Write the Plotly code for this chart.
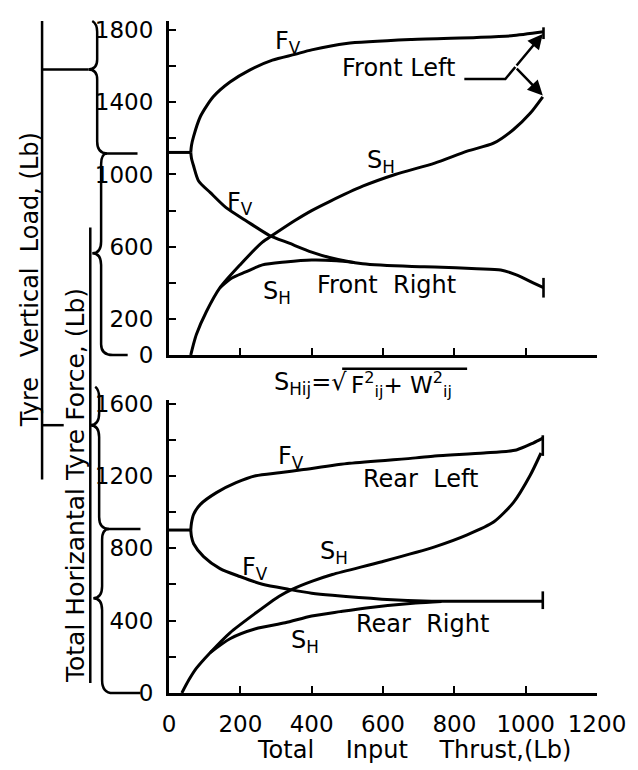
import plotly.graph_objects as go

# ---------------- data ----------------
x_ticks = [0, 200, 400, 600, 800, 1000, 1200]
x_ticktext = ["0", "200", "400", "600", "800", "1000", "1200"]
top_yticks = [0, 200, 400, 600, 800, 1000, 1200, 1400, 1600, 1800]
top_yticktext = ["0", "200", "", "600", "", "1000", "", "1400", "", "1800"]
bot_yticks = [0, 200, 400, 600, 800, 1000, 1200, 1400, 1600]
bot_yticktext = ["0", "", "400", "", "800", "", "1200", "", "1600"]

# Front wheels (top panel)
front_static_x = [0, 61]
front_static_y = [1122, 1122]
fl_fv_x = [61, 63, 69, 88, 124, 171, 226, 290, 353, 400, 497, 681, 863, 960, 1050]
fl_fv_y = [1122, 1160, 1211, 1321, 1430, 1512, 1578, 1633, 1665, 1690, 1726, 1748, 1759, 1768, 1790]
fr_fv_x = [61, 63, 69, 83, 116, 160, 215, 281, 337, 400, 450, 543, 681, 745, 863, 930, 974, 1021, 1050]
fr_fv_y = [1122, 1090, 1047, 964, 899, 816, 745, 663, 619, 570, 540, 505, 490, 488, 478, 471, 444, 400, 373]
fl_sh_x = [61, 68, 77, 105, 143, 199, 262, 290, 353, 400, 450, 543, 634, 745, 836, 910, 966, 1012, 1048]
fl_sh_y = [0, 55, 115, 241, 373, 499, 625, 663, 745, 800, 850, 935, 1000, 1063, 1129, 1173, 1249, 1337, 1430]
fr_sh_x = [143, 175, 215, 262, 326, 400, 470, 520]
fr_sh_y = [373, 425, 460, 499, 515, 526, 522, 512]

# Rear wheels (bottom panel)
rear_static_x = [0, 61]
rear_static_y = [901, 901]
rl_fv_x = [61, 63, 69, 88, 133, 188, 243, 309, 372, 506, 692, 745, 883, 974, 1021, 1048]
rl_fv_y = [901, 940, 988, 1043, 1108, 1163, 1201, 1218, 1234, 1270, 1300, 1311, 1327, 1344, 1382, 1409]
rr_fv_x = [61, 63, 69, 97, 143, 199, 262, 337, 400, 458, 597, 736, 875, 1048]
rr_fv_y = [901, 865, 825, 754, 688, 644, 601, 573, 552, 540, 519, 508, 508, 508]
rl_sh_x = [36, 55, 77, 116, 171, 243, 309, 345, 400, 458, 597, 745, 836, 910, 966, 1012, 1043]
rl_sh_y = [0, 70, 137, 224, 333, 442, 535, 573, 617, 655, 726, 808, 874, 945, 1054, 1201, 1327]
rr_sh_x = [116, 171, 243, 326, 400, 480, 553, 692, 764]
rr_sh_y = [224, 300, 355, 388, 426, 450, 470, 497, 506]

# ---------------- figure ----------------
W, H = 638, 770
ML, MR, MT, MB = 169, 34, 13, 77
FONT = "DejaVu Sans, sans-serif"


def pxx(x):
    return (x - ML) / (W - ML - MR)


def pxy(y):
    return (H - MB - y) / (H - MT - MB)


fig = go.Figure()


def curve(x, y, xa, ya, cap=None):
    kw = {}
    if cap is not None:
        plus, minus = cap
        arr = [0] * (len(x) - 1) + [plus]
        arrm = [0] * (len(x) - 1) + [minus]
        kw["error_y"] = dict(type="data", symmetric=False, array=arr, arrayminus=arrm,
                             width=0, thickness=2.6, color="black")
    fig.add_trace(go.Scatter(x=x, y=y, xaxis=xa, yaxis=ya, mode="lines",
                             line=dict(color="black", width=3, shape="spline", smoothing=0.7),
                             showlegend=False, hoverinfo="skip", **kw))


# top panel
curve(front_static_x, front_static_y, "x", "y")
curve(fl_fv_x, fl_fv_y, "x", "y", cap=(25, 40))
curve(fr_fv_x, fr_fv_y, "x", "y", cap=(54, 55))
curve(fl_sh_x, fl_sh_y, "x", "y")
curve(fr_sh_x, fr_sh_y, "x", "y")
# bottom panel
curve(rear_static_x, rear_static_y, "x2", "y2")
curve(rl_fv_x, rl_fv_y, "x2", "y2", cap=(16, 98))
curve(rr_fv_x, rr_fv_y, "x2", "y2", cap=(54, 44))
curve(rl_sh_x, rl_sh_y, "x2", "y2")
curve(rr_sh_x, rr_sh_y, "x2", "y2")

axis_common = dict(showline=True, linecolor="black", linewidth=3, ticks="inside",
                   ticklen=7, tickwidth=2, tickcolor="black", showgrid=False,
                   zeroline=False, tickfont=dict(family=FONT, size=23, color="black"))

fig.update_layout(
    width=W, height=H,
    margin=dict(l=ML, r=MR, t=MT, b=MB),
    paper_bgcolor="white", plot_bgcolor="white",
    xaxis=dict(domain=[0, 1], range=[0, 1200], anchor="y", tickvals=x_ticks,
               showticklabels=False, **axis_common),
    yaxis=dict(domain=[0.503, 1], range=[0, 1850], anchor="x", tickvals=top_yticks,
               ticktext=top_yticktext, ticklabelstandoff=8, **axis_common),
    xaxis2=dict(domain=[0, 1], range=[0, 1200], anchor="y2", tickvals=x_ticks,
                ticktext=x_ticktext, ticklabelstandoff=8, **axis_common),
    yaxis2=dict(domain=[0, 0.436], range=[0, 1620], anchor="x2", tickvals=bot_yticks,
                ticktext=bot_yticktext, ticklabelstandoff=8, **axis_common),
)


def lab(text, x, y, xa="x", ya="y", size=24, **kw):
    fig.add_annotation(text=text, x=x, y=y, xref=xa, yref=ya, showarrow=False,
                       xanchor="center", yanchor="middle",
                       font=dict(family=FONT, size=size, color="black"), **kw)


# top panel labels
lab("F<sub>V</sub>", 335, 1730)
lab("Front Left", 643, 1590)
lab("S<sub>H</sub>", 595, 1070)
lab("F<sub>V</sub>", 200, 840)
lab("S<sub>H</sub>", 303, 345)
lab("Front  Right", 610, 390)
# bottom panel labels
lab("F<sub>V</sub>", 342, 1300, "x2", "y2")
lab("Rear  Left", 706, 1185, "x2", "y2")
lab("S<sub>H</sub>", 463, 775, "x2", "y2")
lab("F<sub>V</sub>", 240, 690, "x2", "y2")
lab("Rear  Right", 712, 380, "x2", "y2")
lab("S<sub>H</sub>", 381, 285, "x2", "y2")

# Front Left leader + arrows
fig.add_shape(type="path", xref="x", yref="y",
              path="M 828,1529 L 943,1529 L 971,1595",
              line=dict(color="black", width=2.5))
for ty in (1778, 1438):
    fig.add_annotation(x=1048, y=ty, xref="x", yref="y", ax=971, ay=1595,
                       axref="x", ayref="y", text="", showarrow=True,
                       arrowhead=2, arrowsize=1.2, arrowwidth=2.5, arrowcolor="black")

# formula between panels
fig.add_annotation(text="S<sub>Hij</sub>=√", x=pxx(352), y=pxy(380), xref="paper", yref="paper",
                   xanchor="right", yanchor="middle", showarrow=False,
                   font=dict(family=FONT, size=24, color="black"))
fig.add_annotation(text="F<sup>2</sup><sub>ij</sub>+ W<sup>2</sup><sub>ij</sub>",
                   x=pxx(352), y=pxy(381), xref="paper", yref="paper",
                   xanchor="left", yanchor="middle", showarrow=False,
                   font=dict(family=FONT, size=23, color="black"))
fig.add_shape(type="line", xref="paper", yref="paper", x0=pxx(345), y0=pxy(365),
              x1=pxx(472), y1=pxy(365), line=dict(color="black", width=2.5))

# x axis title
fig.add_annotation(text="Total\u2003 Input\u2003 Thrust,(Lb)", x=pxx(418), y=pxy(751),
                   xref="paper", yref="paper", showarrow=False,
                   xanchor="center", yanchor="middle",
                   font=dict(family=FONT, size=24, color="black"))

# left side titles
fig.add_annotation(text="Tyre\u2002 Vertical  Load, (Lb)", x=pxx(28), y=pxy(275),
                   xref="paper", yref="paper", showarrow=False, textangle=-90,
                   xanchor="center", yanchor="middle",
                   font=dict(family=FONT, size=24, color="black"))
fig.add_annotation(text="Total Horizantal Tyre Force, (Lb)", x=pxx(74), y=pxy(483),
                   xref="paper", yref="paper", showarrow=False, textangle=-90,
                   xanchor="center", yanchor="middle",
                   font=dict(family=FONT, size=25, color="black"))


def ppath(cmds):
    out = []
    for c in cmds:
        op, pts = c[0], c[1:]
        out.append(op + " " + " ".join(f"{pxx(a):.5f},{pxy(b):.5f}" for a, b in pts))
    return " ".join(out)


deco = [
    [("M", (40, 13)), ("L", (40, 477))],
    [("M", (40, 62)), ("L", (87, 62))],
    [("M", (40, 422)), ("L", (62, 422))],
    [("M", (89, 222)), ("L", (89, 683))],
    [("M", (91, 13)), ("Q", (96, 16), (96, 24)), ("L", (96, 52)), ("Q", (96, 62), (87, 62)),
     ("Q", (96, 62), (96, 72)), ("L", (96, 135)), ("Q", (96, 147), (106, 147)), ("L", (137, 147))],
    [("M", (106, 147)), ("Q", (100, 147), (100, 158)), ("L", (100, 236)), ("Q", (100, 248), (91, 248)),
     ("Q", (100, 248), (100, 260)), ("L", (100, 340)), ("Q", (100, 351), (112, 351)), ("L", (127, 351))],
    [("M", (94, 383)), ("Q", (98, 386), (98, 394)), ("L", (98, 410)), ("Q", (98, 422), (89, 422)),
     ("Q", (98, 422), (98, 434)), ("L", (98, 515)), ("Q", (98, 527), (108, 527)), ("L", (140, 527))],
    [("M", (108, 527)), ("Q", (101, 527), (101, 538)), ("L", (101, 585)), ("Q", (101, 597), (92, 597)),
     ("Q", (101, 597), (101, 609)), ("L", (101, 680)), ("Q", (101, 693), (112, 693)), ("L", (140, 693))],
]
for d in deco:
    fig.add_shape(type="path", xref="paper", yref="paper", path=ppath(d),
                  line=dict(color="black", width=2.5))

fig.write_html("out.html")
